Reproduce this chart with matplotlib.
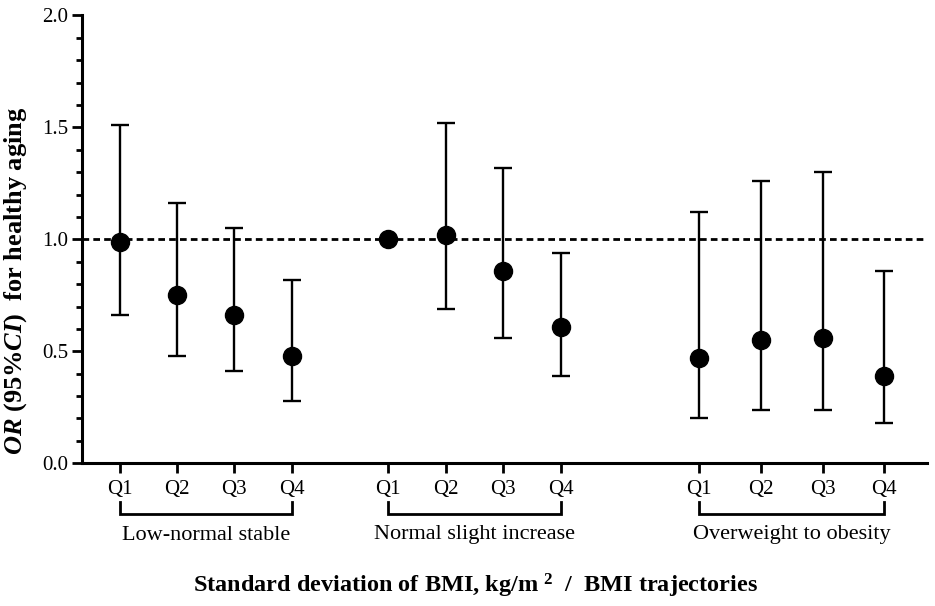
import matplotlib
matplotlib.use("Agg")
import matplotlib.pyplot as plt
from matplotlib.ticker import MultipleLocator

plt.rcParams['font.family'] = ['Liberation Serif', 'DejaVu Serif']
plt.rcParams['mathtext.fontset'] = 'custom'
plt.rcParams['mathtext.rm'] = 'Liberation Serif'
plt.rcParams['mathtext.it'] = 'Liberation Serif:italic'
plt.rcParams['mathtext.bf'] = 'Liberation Serif:bold'
plt.rcParams['mathtext.bfit'] = 'Liberation Serif:bold:italic'

# ---- data ----
groups = ["Low-normal stable", "Normal slight increase", "Overweight to obesity"]
quartiles = ["Q1", "Q2", "Q3", "Q4"]
or_low = [0.99, 0.75, 0.66, 0.48]
lo_low = [0.66, 0.48, 0.41, 0.28]
hi_low = [1.51, 1.16, 1.05, 0.82]
or_norm = [1.00, 1.02, 0.86, 0.61]
lo_norm = [1.00, 0.69, 0.56, 0.39]
hi_norm = [1.00, 1.52, 1.32, 0.94]
or_over = [0.47, 0.55, 0.56, 0.39]
lo_over = [0.20, 0.24, 0.24, 0.18]
hi_over = [1.12, 1.26, 1.30, 0.86]
yticks = [0.0, 0.5, 1.0, 1.5, 2.0]

# ---- layout (x positions of the categories) ----
xpos = [[120, 177, 234, 292], [388, 446, 503, 561], [699, 761, 823, 884]]

W, H = 935, 606
fig = plt.figure(figsize=(W / 100, H / 100), dpi=100)
ax_l, ax_r, ax_b, ax_t = 82, 927, 463.3, 15.3
ax = fig.add_axes([ax_l / W, 1 - ax_b / H, (ax_r - ax_l) / W, (ax_b - ax_t) / H])
ax.set_xlim(ax_l, ax_r)
ax.set_ylim(0, 2.0)

ax.axhline(1.0, color='black', lw=2.0, ls=(0, (2.4, 1.5)), zorder=1)

data = [(or_low, lo_low, hi_low), (or_norm, lo_norm, hi_norm), (or_over, lo_over, hi_over)]
for xs, (est, lo, hi) in zip(xpos, data):
    for x, e, l, h in zip(xs, est, lo, hi):
        if h > l:
            ax.errorbar([x], [e], yerr=[[e - l], [h - e]], fmt='none', ecolor='black',
                        elinewidth=1.7, capsize=6.5, capthick=1.7, zorder=2)
        ax.plot([x], [e], 'o', color='black', ms=13, zorder=3)

for s in ['top', 'right']:
    ax.spines[s].set_visible(False)
for s in ['left', 'bottom']:
    ax.spines[s].set_linewidth(2.2)

ax.set_yticks(yticks)
ax.set_yticklabels([f"{v:.1f}" for v in yticks])
ax.yaxis.set_minor_locator(MultipleLocator(0.1))
ax.tick_params(axis='y', which='major', length=7, width=2.0, labelsize=15, direction='out', pad=3)
ax.tick_params(axis='y', which='minor', length=4, width=2.0, direction='out')

allx = [x for xs in xpos for x in xs]
ax.set_xticks(allx)
ax.set_xticklabels(quartiles * 3)
ax.tick_params(axis='x', which='major', length=7, width=2.0, labelsize=15, direction='out', pad=5)
ax.tick_params(axis='x', which='minor', length=0)

# brackets and group labels
def px2fig(x, y):
    return x / W, 1 - y / H

for xs, g in zip(xpos, groups):
    x0, x1 = xs[0], xs[-1]
    fx0, fy0 = px2fig(x0, 502)
    fx1, fy1 = px2fig(x1, 514)
    fig.add_artist(plt.Line2D([fx0, fx0, fx1, fx1], [fy0, fy1, fy1, fy0],
                              color='black', lw=2.0, solid_joinstyle='miter'))
    cx, cy = px2fig((x0 + x1) / 2, 535)
    fig.text(cx, cy, g, ha='center', va='center', fontsize=16)

fx, fy = px2fig(476, 586)
fig.text(fx, fy, r"Standard deviation of BMI, kg/m $^{\mathbf{2}}$  /  BMI trajectories",
         ha='center', va='center', fontsize=17.5, fontweight='bold')

fx, fy = px2fig(16, 281)
fig.text(fx, fy, r"$\mathbfit{OR}$ (95%$\mathbfit{CI}$)  for healthy aging",
         ha='center', va='center', rotation=90, fontsize=19, fontweight='bold')

fig.savefig("out.png", dpi=100)
